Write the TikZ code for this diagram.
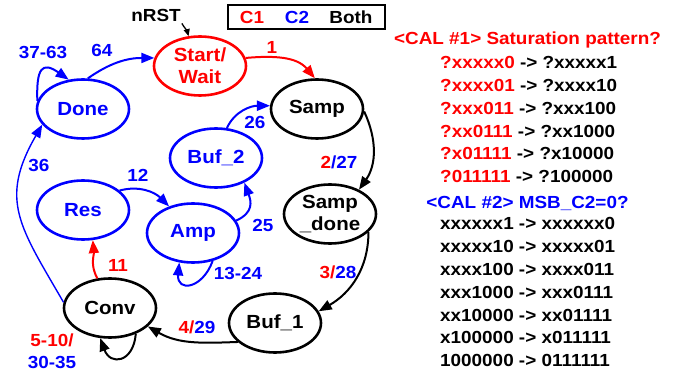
\documentclass[tikz,border=0pt]{standalone}
\usepackage{fontspec}
\setmainfont{Liberation Sans}[FakeStretch=1.08]
\usetikzlibrary{shapes.geometric,arrows.meta}
\newcommand\fnode{\fontsize{19}{22}\selectfont\bfseries}
\newcommand\flab{\fontsize{17.5}{21}\selectfont\bfseries}
\begin{document}
\begin{tikzpicture}[x=1pt,y=1pt,
  st/.style={ellipse, draw, line width=2.6pt, minimum width=92pt, minimum height=59pt, inner sep=0pt, font=\fnode, align=center},
  tr/.style={line width=2pt, -{Triangle[length=13pt,width=10pt]}},
  lbl/.style={font=\flab, inner sep=0pt},
  rt/.style={font=\flab, inner sep=0pt, anchor=base west},
  rtt/.style={font=\flab, inner sep=0pt, anchor=base}]
\useasboundingbox (0,0) rectangle (675,375);
% states
\node[st, red] (Start) at (200,309) {Start/\\Wait};
\node[st, blue] (Done) at (83,266) {Done};
\node[st] (Samp) at (317,266) {Samp};
\node[st, blue] (Buf2) at (216,217) {Buf\_2};
\node[st, blue] (Res) at (83,165) {Res};
\node[st, blue] (Amp) at (193,142) {Amp};
\node[st] (Sampdone) at (330,161) {Samp\\\_done};
\node[st] (Conv) at (110,67) {Conv};
\node[st] (Buf1) at (275,52) {Buf\_1};
% legend
\node[draw, line width=1.3pt, minimum width=157pt, minimum height=24pt, inner sep=0pt] (legend) at (306.5,358) {};
\node[lbl, red] (lc1) at (252,358) {C1};
\node[lbl, blue] (lc2) at (297,358) {C2};
\node[lbl] (lboth) at (351,358) {Both};
% reset
\node[lbl] (nrst) at (156,360) {nRST};
\draw[line width=1.3pt, -{Triangle[length=7pt,width=6pt]}] ([xshift=1pt,yshift=-2pt]nrst.south east) to[out=-60,in=105] (Start.111);
% edges
\draw[tr, red] (Start.10) to[out=5, in=130] (Samp.94);
\node[lbl, red] (l1) at (272,328) {1};
\draw[tr, blue] (Done.81) to[out=35, in=180] (Start.170);
\node[lbl, blue] (l64) at (102,325) {64};
\draw[tr, blue] (Done.170) to[out=92, in=145, looseness=2.2] (Done.116);
\node[lbl, blue] (l3763) at (43,323) {37-63};
\draw[tr] (Samp.-3) to[out=-65, in=55] (Sampdone.40);
\node[lbl] (l227) at (339,213) {{\color{red}2}{\color{blue}/27}};
\draw[tr, blue] (Buf2.70) to[out=65, in=180] (Samp.176);
\node[lbl, blue] (l26) at (255,253) {26};
\draw[tr, blue] (Amp.16) to[out=25, in=-70, looseness=1.3] (Buf2.-41);
\node[lbl, blue] (l25) at (263,150) {25};
\draw[tr, blue] (Res.28) to[out=15, in=135] (Amp.132);
\node[lbl, blue] (l12) at (138,200) {12};
\draw[tr, blue] (Amp.-55) to[out=-110, in=-95, looseness=2.3] (Amp.-115);
\node[lbl, blue] (l1324) at (238,102) {13-24};
\draw[tr, red] (Conv.113) to[out=120, in=-85] (Res.-72);
\node[lbl, red] (l11) at (118,110) {11};
\draw[tr, blue, line width=1.4pt] (Conv.173) to[out=120, in=-120, looseness=1.25] (Done.-159);
\node[lbl, blue] (l36) at (39,210) {36};
\draw[tr] (Sampdone.-25) to[out=-90, in=30] (Buf1.15);
\node[lbl] (l328) at (338,103) {{\color{red}3/}{\color{blue}28}};
\draw[tr] (Buf1.-153) to[out=182, in=-30] (Conv.-26);
\node[lbl] (l429) at (197,48) {{\color{red}4/}{\color{blue}29}};
\draw[tr] (Conv.-45) to[out=-95, in=-70, looseness=2.1] (Conv.-108);
\node[lbl, red] (l510) at (52,35) {5-10/};
\node[lbl, blue] (l3035) at (52,13) {30-35};
% right text
\node[rtt, red] (cal1) at (527.5,330.7) {<CAL \#1> Saturation pattern?};
\node[rt] (r1) at (440,306.7) {{\color{red}?xxxxx0} -> ?xxxxx1};
\node[rt] (r2) at (440,283.7) {{\color{red}?xxxx01} -> ?xxxx10};
\node[rt] (r3) at (440,260.7) {{\color{red}?xxx011} -> ?xxx100};
\node[rt] (r4) at (440,237.7) {{\color{red}?xx0111} -> ?xx1000};
\node[rt] (r5) at (440,215.7) {{\color{red}?x01111} -> ?x10000};
\node[rt] (r6) at (440,192.7) {{\color{red}?011111} -> ?100000};
\node[rtt, blue] (cal2) at (527.5,166.7) {<CAL \#2> MSB\_C2=0?};
\node[rt] (s1) at (440,145.7) {xxxxxx1 -> xxxxxx0};
\node[rt] (s2) at (440,122.7) {xxxxx10 -> xxxxx01};
\node[rt] (s3) at (440,99.7) {xxxx100 -> xxxx011};
\node[rt] (s4) at (440,76.7) {xxx1000 -> xxx0111};
\node[rt] (s5) at (440,53.7) {xx10000 -> xx01111};
\node[rt] (s6) at (440,31.7) {x100000 -> x011111};
\node[rt] (s7) at (440,8.7) {1000000 -> 0111111};
\end{tikzpicture}
\end{document}
